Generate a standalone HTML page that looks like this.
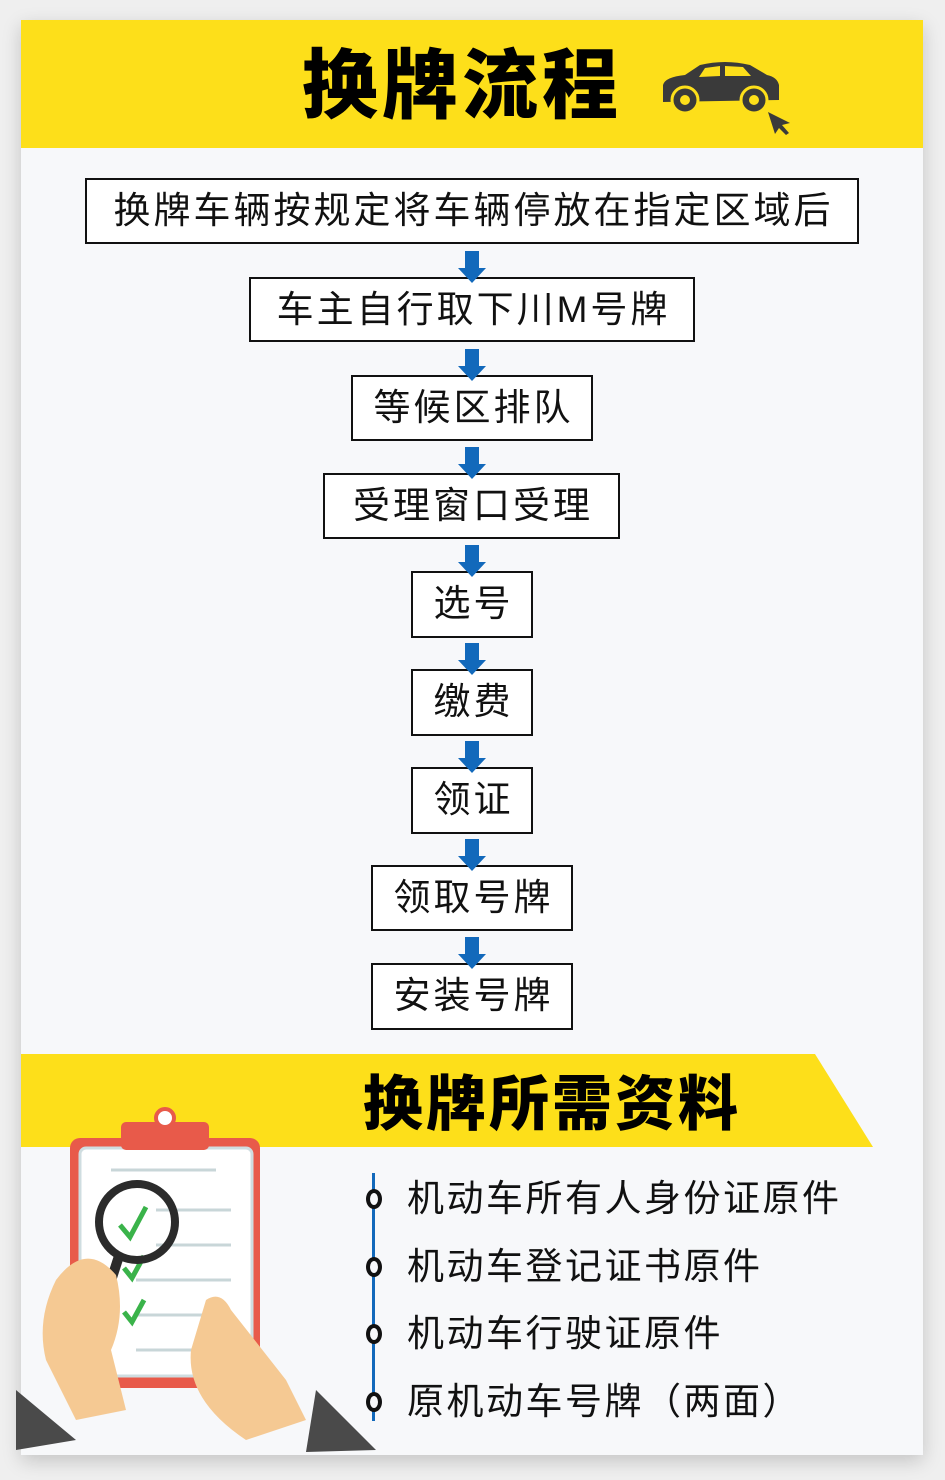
<!DOCTYPE html>
<html><head><meta charset="utf-8"><style>
*{margin:0;padding:0;box-sizing:border-box}
body{width:945px;height:1480px;background:#efefef;position:relative;overflow:hidden;font-family:"Liberation Sans","Noto Sans CJK SC",sans-serif}
.card{position:absolute;left:21px;top:20px;width:902px;height:1435px;background:#f7f8fa;box-shadow:0 6px 18px rgba(0,0,0,.18)}
.hdr{position:absolute;left:21px;top:20px;width:902px;height:128px;background:#fddf1a}
.t1{position:absolute;left:302px;top:42px;font-size:76px;font-weight:900;color:#000;letter-spacing:4px;line-height:90px}
.box{position:absolute;border:2px solid #111;background:#fff;font-size:37px;letter-spacing:3px;text-indent:3px;color:#111;text-align:center;line-height:61px;white-space:nowrap}
.arr{position:absolute;left:458px;width:28px;height:32px}
.item{position:absolute;left:407px;font-size:37px;letter-spacing:2.5px;color:#111;line-height:40px;white-space:nowrap}
.dot{position:absolute;left:366px;width:16px;height:20px;border:4px solid #111;border-radius:50%;background:#f7f8fa}
</style></head><body>
<div class="card"></div>
<div class="hdr"></div>
<div class="t1">换牌流程</div>
<svg style="position:absolute;left:655px;top:55px" width="140" height="85" viewBox="0 0 140 85">
<path d="M8 30 Q10 22 30 20 L45 10 Q70 4 95 10 L112 20 Q122 22 124 30 L124 45 L8 47 Z" fill="#3a3a3a"/>
<path d="M50 13 L65 11 L65 21 L44 22 Z M70 11 L88 12 L96 21 L70 21 Z" fill="#fddf1a"/>
<circle cx="30" cy="45" r="13" fill="#3a3a3a" stroke="#fddf1a" stroke-width="3"/><circle cx="30" cy="45" r="5" fill="#fddf1a"/>
<circle cx="99" cy="45" r="13" fill="#3a3a3a" stroke="#fddf1a" stroke-width="3"/><circle cx="99" cy="45" r="5" fill="#fddf1a"/>
<path d="M113 57 L135 68 L127 70 L134 78 L131 80 L124 73 L120 79 Z" fill="#3a3a3a"/>
</svg>

<div class="box" style="left:85px;top:178px;width:774px;height:66px">换牌车辆按规定将车辆停放在指定区域后</div>
<div class="box" style="left:249px;top:277px;width:446px;height:65px">车主自行取下川M号牌</div>
<div class="box" style="left:351px;top:375px;width:242px;height:66px">等候区排队</div>
<div class="box" style="left:323px;top:473px;width:297px;height:66px">受理窗口受理</div>
<div class="box" style="left:411px;top:571px;width:122px;height:67px">选号</div>
<div class="box" style="left:411px;top:669px;width:122px;height:67px">缴费</div>
<div class="box" style="left:411px;top:767px;width:122px;height:67px">领证</div>
<div class="box" style="left:371px;top:865px;width:202px;height:66px">领取号牌</div>
<div class="box" style="left:371px;top:963px;width:202px;height:67px">安装号牌</div>

<svg class="arr" style="top:251px" viewBox="0 0 28 32"><path d="M7 0H21V17H28L14 32L0 17H7Z" fill="#1269bb"/></svg>
<svg class="arr" style="top:349px" viewBox="0 0 28 32"><path d="M7 0H21V17H28L14 32L0 17H7Z" fill="#1269bb"/></svg>
<svg class="arr" style="top:447px" viewBox="0 0 28 32"><path d="M7 0H21V17H28L14 32L0 17H7Z" fill="#1269bb"/></svg>
<svg class="arr" style="top:545px" viewBox="0 0 28 32"><path d="M7 0H21V17H28L14 32L0 17H7Z" fill="#1269bb"/></svg>
<svg class="arr" style="top:643px" viewBox="0 0 28 32"><path d="M7 0H21V17H28L14 32L0 17H7Z" fill="#1269bb"/></svg>
<svg class="arr" style="top:741px" viewBox="0 0 28 32"><path d="M7 0H21V17H28L14 32L0 17H7Z" fill="#1269bb"/></svg>
<svg class="arr" style="top:839px" viewBox="0 0 28 32"><path d="M7 0H21V17H28L14 32L0 17H7Z" fill="#1269bb"/></svg>
<svg class="arr" style="top:937px" viewBox="0 0 28 32"><path d="M7 0H21V17H28L14 32L0 17H7Z" fill="#1269bb"/></svg>

<svg style="position:absolute;left:21px;top:1054px" width="860" height="94"><path d="M0 0H794L852 93H0Z" fill="#fddf1a"/></svg>
<div style="position:absolute;left:363px;top:1068px;font-size:60px;font-weight:900;letter-spacing:3px;line-height:74px;color:#000">换牌所需资料</div>

<svg style="position:absolute;left:16px;top:1100px" width="370" height="355" viewBox="0 0 370 355">
<rect x="54" y="38" width="190" height="250" rx="10" fill="#e85a4a"/>
<rect x="64" y="48" width="172" height="228" rx="6" fill="#fff" stroke="#cfdde0" stroke-width="3"/>
<rect x="105" y="22" width="88" height="28" rx="5" fill="#e85a4a"/>
<circle cx="149" cy="18" r="9" fill="#fff" stroke="#e85a4a" stroke-width="4"/>
<g stroke="#c8d6d8" stroke-width="3"><line x1="95" y1="70" x2="200" y2="70"/><line x1="140" y1="110" x2="215" y2="110"/><line x1="140" y1="145" x2="215" y2="145"/><line x1="120" y1="180" x2="215" y2="180"/><line x1="120" y1="215" x2="215" y2="215"/><line x1="120" y1="250" x2="215" y2="250"/></g>
<g stroke="#3ab34a" stroke-width="5" fill="none"><path d="M104 125l10 12 16-30"/><path d="M108 168l8 10 12-22"/><path d="M108 212l8 10 12-22"/></g>
<circle cx="121" cy="122" r="38" fill="none" stroke="#2b2b2b" stroke-width="8"/>
<line x1="103" y1="156" x2="92" y2="190" stroke="#2b2b2b" stroke-width="10"/>
<path d="M30 260 Q20 220 40 180 Q70 140 100 175 Q110 215 95 250 L110 310 L60 320 Z" fill="#f5c993"/>
<path d="M0 290 L60 340 L0 350 Z" fill="#4a4a4a"/>
<path d="M190 200 Q205 190 215 210 L270 280 L290 320 L230 340 Q170 300 175 250 Z" fill="#f5c993"/>
<path d="M300 290 L360 350 L290 352 Z" fill="#4a4a4a"/>
</svg>

<div style="position:absolute;left:372px;top:1173px;width:3px;height:248px;background:#1269bb"></div>
<div class="dot" style="top:1189px"></div>
<div class="dot" style="top:1257px"></div>
<div class="dot" style="top:1324px"></div>
<div class="dot" style="top:1392px"></div>
<div class="item" style="top:1179px">机动车所有人身份证原件</div>
<div class="item" style="top:1247px">机动车登记证书原件</div>
<div class="item" style="top:1314px">机动车行驶证原件</div>
<div class="item" style="top:1382px">原机动车号牌（两面）</div>
</body></html>
